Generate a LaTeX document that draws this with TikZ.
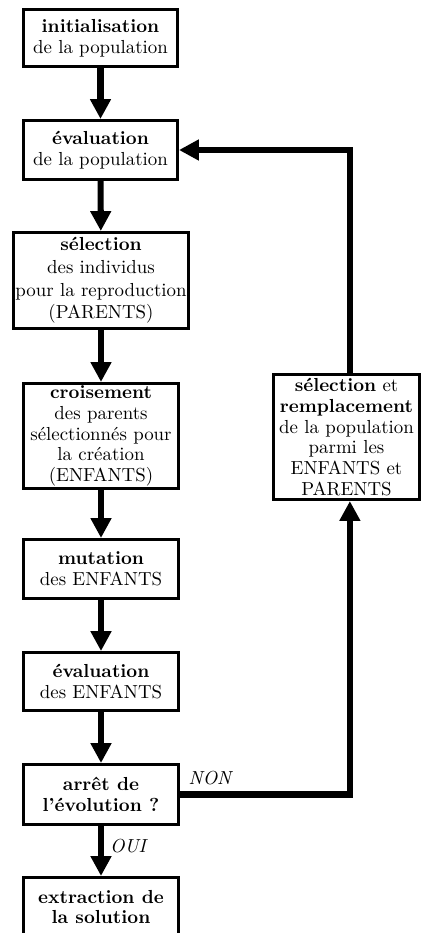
\documentclass[tikz,border=0pt]{standalone}
\usetikzlibrary{arrows.meta}
\begin{document}
\begin{tikzpicture}[x=0.53pt,y=-0.53pt,
  stepbox/.style={draw,line width=1.6pt,align=center,inner sep=1pt,
    font=\fontsize{10}{11}\selectfont,minimum width=81.6pt},
  flow/.style={line width=3.2pt,-{Triangle[width=10.5pt,length=10.5pt]}},
  answer/.style={font=\itshape,inner sep=0pt}]
\useasboundingbox (0,0) rectangle (422,933);

\node[stepbox,minimum height=30.2pt] (n1) at (100.5,38)
  {\textbf{initialisation}\\de la population};
\node[stepbox,minimum height=31.3pt] (n2) at (100.5,150)
  {\textbf{évaluation}\\de la population};
\node[stepbox,minimum width=89.6pt,minimum height=50.9pt,
  font=\fontsize{10}{12}\selectfont] (n3) at (101,280.5)
  {\textbf{sélection}\\des individus\\pour la reproduction\\(PARENTS)};
\node[stepbox,minimum width=82pt,minimum height=55.7pt] (n4) at (101,436)
  {\textbf{croisement}\\des parents\\sélectionnés pour\\la création\\(ENFANTS)};
\node[stepbox,minimum width=82pt,minimum height=31.3pt] (n5) at (101,569)
  {\textbf{mutation}\\des ENFANTS};
\node[stepbox,minimum width=82pt,minimum height=30.7pt] (n6) at (101,681.5)
  {\textbf{évaluation}\\des ENFANTS};
\node[stepbox,minimum width=82pt,minimum height=31.8pt] (n7) at (101,794.5)
  {\textbf{arrêt de}\\\textbf{l'évolution ?}};
\node[stepbox,minimum width=82pt,minimum height=31.3pt] (n8) at (101,907)
  {\textbf{extraction de}\\\textbf{la solution}};
\node[stepbox,minimum width=77.4pt,minimum height=66.3pt] (r) at (346.5,437)
  {\textbf{sélection} et\\\textbf{remplacement}\\de la population\\parmi les\\ENFANTS et\\PARENTS};

\draw[flow] (n1) -- (n2);
\draw[flow] (n2) -- (n3);
\draw[flow] (n3) -- (n4);
\draw[flow] (n4) -- (n5);
\draw[flow] (n5) -- (n6);
\draw[flow] (n6) -- (n7);
\draw[flow] (n7) -- (n8);
% loop back: NON branch up into the replacement step, then back to evaluation
\draw[flow] (n7.east) -| ([xshift=1.8pt]r.south);
\draw[flow] ([xshift=1.8pt]r.north) |- (n2.east);

\node[answer] (non) at (210,778) {NON};
\node[answer] (oui) at (128,846) {OUI};
\end{tikzpicture}
\end{document}
